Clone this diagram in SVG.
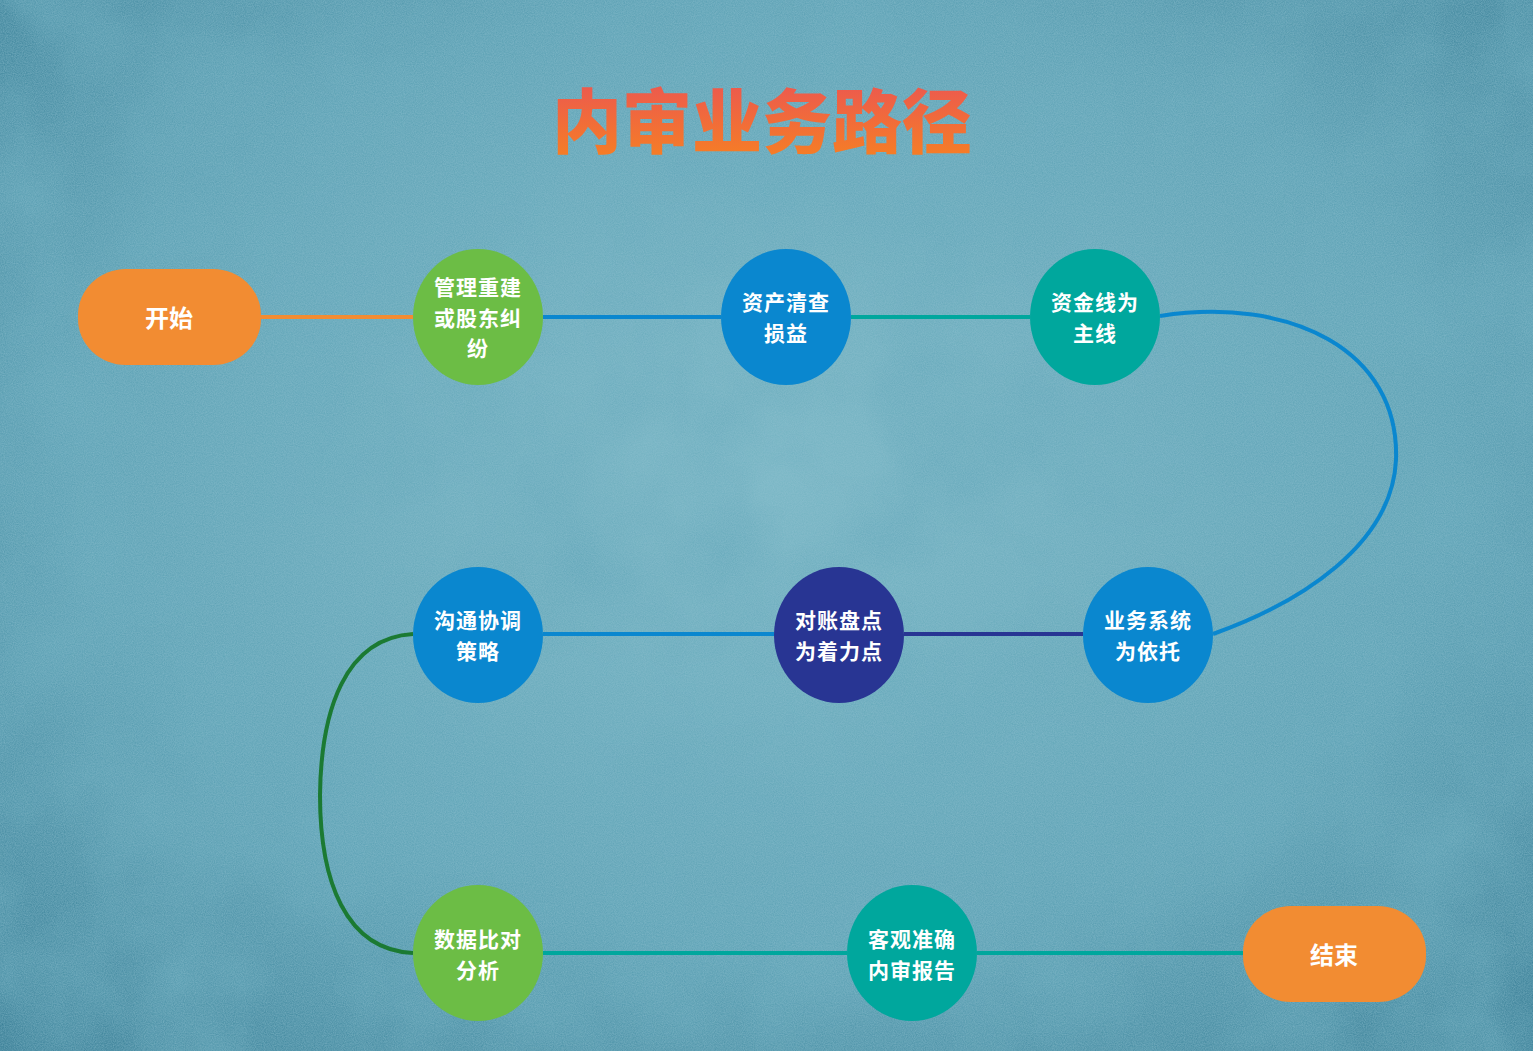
<svg xmlns="http://www.w3.org/2000/svg" width="1533" height="1051" viewBox="0 0 1533 1051">
  <defs>
    <radialGradient id="bg" cx="0.5" cy="0.45" r="0.75">
      <stop offset="0" stop-color="#7ab7c5"/>
      <stop offset="0.6" stop-color="#5ca1b4"/>
      <stop offset="1" stop-color="#357b93"/>
    </radialGradient>
    <linearGradient id="titleGrad" x1="0" y1="0" x2="0" y2="1">
      <stop offset="0" stop-color="#ea5158"/>
      <stop offset="1" stop-color="#f7831f"/>
    </linearGradient>
    <filter id="noise" x="0" y="0" width="100%" height="100%">
      <feTurbulence type="fractalNoise" baseFrequency="0.9" numOctaves="2" seed="3" result="n"/>
      <feColorMatrix type="matrix" values="0 0 0 0 0.3  0 0 0 0 0.55  0 0 0 0 0.65  0 0 0 0.6 -0.05" in="n"/>
    </filter>
    <filter id="blotch" x="0" y="0" width="100%" height="100%">
      <feTurbulence type="fractalNoise" baseFrequency="0.008" numOctaves="4" seed="7" result="n"/>
      <feColorMatrix type="matrix" values="0 0 0 0 0.12  0 0 0 0 0.38  0 0 0 0 0.48  0 0 0 1.4 -0.5" in="n"/>
    </filter>
  </defs>
  <style>
    .lbl { font-family: "Noto Sans CJK SC", "Noto Sans", sans-serif; font-weight: 700; font-size: 21px; letter-spacing: 1px; fill: #ffffff; text-anchor: middle; }
    .term { font-family: "Noto Sans CJK SC", "Noto Sans", sans-serif; font-weight: 700; font-size: 24px; fill: #ffffff; text-anchor: middle; }
    .title { font-family: "Noto Sans CJK SC", "Noto Sans", sans-serif; font-weight: 900; font-size: 70px; fill: url(#titleGrad); text-anchor: middle; }
    .conn { fill: none; stroke-width: 4; }
    .orange { fill: #f28c32; }
    .green { fill: #6cbd45; }
    .blue { fill: #0a87cf; }
    .teal { fill: #00a79d; }
    .navy { fill: #283593; }
  </style>

  <rect x="0" y="0" width="1533" height="1051" fill="url(#bg)"/>
  <rect x="0" y="0" width="1533" height="1051" filter="url(#blotch)"/>
  <rect x="0" y="0" width="1533" height="1051" filter="url(#noise)"/>

  <text class="title" x="762" y="148">内审业务路径</text>

  <g id="connectors">
    <line class="conn" x1="261" y1="317" x2="413" y2="317" stroke="#f28c32"/>
    <line class="conn" x1="543" y1="317" x2="721" y2="317" stroke="#0a87cf"/>
    <line class="conn" x1="851" y1="317" x2="1030" y2="317" stroke="#00a79d"/>
    <path class="conn" d="M1160,316 C1290,296 1400,350 1396,460 C1392,545 1300,603 1213,634" stroke="#0a87cf"/>
    <line class="conn" x1="904" y1="634" x2="1083" y2="634" stroke="#283593"/>
    <line class="conn" x1="543" y1="634" x2="774" y2="634" stroke="#0a87cf"/>
    <path class="conn" d="M413,634 C345,638 321,710 320,795 C320,880 345,950 413,953" stroke="#1b7a33"/>
    <line class="conn" x1="543" y1="953" x2="847" y2="953" stroke="#00a79d"/>
    <line class="conn" x1="977" y1="953" x2="1243" y2="953" stroke="#00a79d"/>
  </g>

  <g id="start">
    <rect class="orange" x="78" y="269" width="183" height="96" rx="48" ry="46"/>
    <text class="term" x="169" y="327">开始</text>
  </g>

  <g id="n1">
    <ellipse class="green" cx="478" cy="317" rx="65" ry="68"/>
    <text class="lbl" x="478" y="295">管理重建<tspan x="478" dy="30.5">或股东纠</tspan><tspan x="478" dy="30.5">纷</tspan></text>
  </g>

  <g id="n2">
    <ellipse class="blue" cx="786" cy="317" rx="65" ry="68"/>
    <text class="lbl" x="786" y="310">资产清查<tspan x="786" dy="30.5">损益</tspan></text>
  </g>

  <g id="n3">
    <ellipse class="teal" cx="1095" cy="317" rx="65" ry="68"/>
    <text class="lbl" x="1095" y="310">资金线为<tspan x="1095" dy="30.5">主线</tspan></text>
  </g>

  <g id="n4">
    <ellipse class="blue" cx="1148" cy="635" rx="65" ry="68"/>
    <text class="lbl" x="1148" y="628">业务系统<tspan x="1148" dy="30.5">为依托</tspan></text>
  </g>

  <g id="n5">
    <ellipse class="navy" cx="839" cy="635" rx="65" ry="68"/>
    <text class="lbl" x="839" y="628">对账盘点<tspan x="839" dy="30.5">为着力点</tspan></text>
  </g>

  <g id="n6">
    <ellipse class="blue" cx="478" cy="635" rx="65" ry="68"/>
    <text class="lbl" x="478" y="628">沟通协调<tspan x="478" dy="30.5">策略</tspan></text>
  </g>

  <g id="n7">
    <ellipse class="green" cx="478" cy="953" rx="65" ry="68"/>
    <text class="lbl" x="478" y="947">数据比对<tspan x="478" dy="30.5">分析</tspan></text>
  </g>

  <g id="n8">
    <ellipse class="teal" cx="912" cy="953" rx="65" ry="68"/>
    <text class="lbl" x="912" y="947">客观准确<tspan x="912" dy="30.5">内审报告</tspan></text>
  </g>

  <g id="end">
    <rect class="orange" x="1243" y="906" width="183" height="96" rx="48" ry="46"/>
    <text class="term" x="1334" y="964">结束</text>
  </g>
</svg>
